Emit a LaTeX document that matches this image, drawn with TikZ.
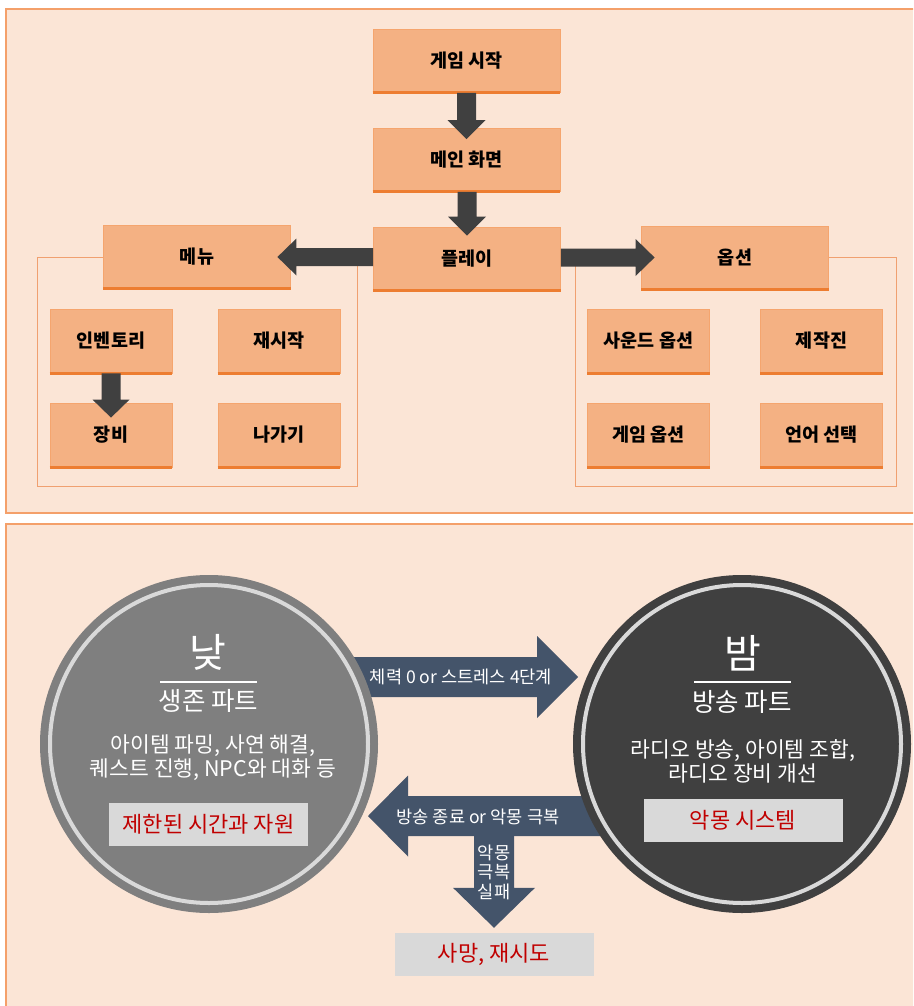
\documentclass[tikz,border=0pt]{standalone}
\usepackage{fontspec}
\setmainfont{Noto Sans CJK KR}
\usetikzlibrary{calc}
\definecolor{panelbg}{HTML}{FBE5D6}
\definecolor{panelline}{HTML}{F4A06A}
\definecolor{boxfill}{HTML}{F4B183}
\definecolor{boxline}{HTML}{F5A56E}
\definecolor{boxbottom}{HTML}{ED7D31}
\definecolor{grpline}{HTML}{F0A070}
\definecolor{arrdark}{HTML}{404040}
\definecolor{arrslate}{HTML}{44546A}
\definecolor{daygray}{HTML}{7F7F7F}
\definecolor{nightgray}{HTML}{404040}
\definecolor{ringgray}{HTML}{D9D9D9}
\definecolor{tagbg}{HTML}{D9D9D9}
\definecolor{tagred}{HTML}{C00000}

% block arrows: #1 style, #2 start, #3 tip, #4 half shaft, #5 half head, #6 head length
\newcommand\blkdown[6]{\fill[#1] let \p1=(#2), \p2=(#3) in
  (\x2-#4,\y1) -- (\x2-#4,\y2+#6) -- (\x2-#5,\y2+#6) -- (\x2,\y2) --
  (\x2+#5,\y2+#6) -- (\x2+#4,\y2+#6) -- (\x2+#4,\y1) -- cycle;}
\newcommand\blkright[6]{\fill[#1] let \p1=(#2), \p2=(#3) in
  (\x1,\y2+#4) -- (\x2-#6,\y2+#4) -- (\x2-#6,\y2+#5) -- (\x2,\y2) --
  (\x2-#6,\y2-#5) -- (\x2-#6,\y2-#4) -- (\x1,\y2-#4) -- cycle;}
\newcommand\blkleft[6]{\fill[#1] let \p1=(#2), \p2=(#3) in
  (\x1,\y2+#4) -- (\x2+#6,\y2+#4) -- (\x2+#6,\y2+#5) -- (\x2,\y2) --
  (\x2+#6,\y2-#5) -- (\x2+#6,\y2-#4) -- (\x1,\y2-#4) -- cycle;}

\begin{document}
\begin{tikzpicture}[x=1pt,y=-1pt,
  panel/.style={fill=panelbg, draw=panelline, line width=2pt},
  grp/.style={draw=grpline, line width=1pt},
  box/.style={fill=boxfill, draw=boxline, line width=0.8pt, inner sep=0pt, text=black,
    font=\fontsize{18.5}{20}\selectfont\bfseries},
  bigbox/.style={box, minimum width=187pt, minimum height=63pt},
  subbox/.style={box, minimum width=122pt, minimum height=64pt},
  botline/.style={draw=boxbottom, line width=3pt},
  toparrow/.style={fill=arrdark},
  botarrow/.style={fill=arrslate},
  ring/.style={draw=ringgray, line width=4pt},
  title/.style={text=white, inner sep=0pt, font=\fontsize{40}{42}\selectfont},
  sub/.style={text=white, inner sep=0pt, font=\fontsize{25.5}{27}\selectfont},
  body/.style={text=white, inner sep=0pt, align=center, font=\fontsize{21.5}{24}\selectfont},
  tag/.style={fill=tagbg, text=tagred, inner sep=0pt, minimum width=199pt, minimum height=43pt,
    font=\fontsize{22}{24}\selectfont},
  arrtext/.style={text=white, inner sep=0pt, align=center, font=\fontsize{17.6}{19.5}\selectfont},
]
\useasboundingbox (0,0) rectangle (913,1006);
\clip (0,0) rectangle (913,1006);
\fill[white] (0,0) rectangle (913,1006);

% panels
\draw[panel] (6,9.5) rectangle (930,513);
\draw[panel] (6,524) rectangle (930,1030);

% ---------- top panel ----------
\draw[grp] (37,257) rectangle (357,486);
\draw[grp] (575,257) rectangle (896,486);

\node[bigbox] (start) at (466.5,61) {게임 시작};
\node[bigbox] (main) at (466.5,160) {메인 화면};
\node[bigbox] (play) at (467,259) {플레이};
\node[bigbox] (menu) at (197,257) {메뉴};
\node[bigbox] (opt) at (735,257.5) {옵션};

\node[subbox] (inv) at (111,341) {인벤토리};
\node[subbox] (restart) at (279,341) {재시작};
\node[subbox] (equip) at (111,435) {장비};
\node[subbox] (quit) at (279,435) {나가기};
\node[subbox] (sound) at (648.5,341) {사운드 옵션};
\node[subbox] (credit) at (821.5,341) {제작진};
\node[subbox] (gameopt) at (648.5,435) {게임 옵션};
\node[subbox] (lang) at (821.5,435) {언어 선택};

\foreach \n in {start,main,play,menu,opt,inv,restart,equip,quit,sound,credit,gameopt,lang}
  \draw[botline] (\n.south west) -- (\n.south east);

\blkdown{toparrow}{start.south}{[yshift=-11pt]main.north}{9.5pt}{19pt}{19pt}
\blkdown{toparrow}{main.south}{[yshift=-8.5pt]play.north}{9.5pt}{19pt}{19pt}
\blkleft{toparrow}{play.west}{[xshift=-13.5pt]menu.east}{9pt}{18.5pt}{19pt}
\blkright{toparrow}{play.east}{[xshift=13.5pt]opt.west}{9pt}{18.5pt}{19pt}
\blkdown{toparrow}{inv.south}{[yshift=-15pt]equip.north}{9.5pt}{18.5pt}{18pt}

% ---------- bottom panel ----------
\coordinate (daymid) at (209,677);
\coordinate (toNight) at (578,677);
\coordinate (nightmid) at (742,816);
\coordinate (toDay) at (368,816);
\coordinate (split) at (494,816);

\node[tag] (death) at (494,954.5) {사망, 재시도};

\blkright{botarrow}{daymid}{toNight}{20pt}{41pt}{41pt}
\blkleft{botarrow}{nightmid}{toDay}{20pt}{40.5pt}{40pt}
\blkdown{botarrow}{split}{[yshift=5pt]death.north}{20pt}{41pt}{40pt}

\node[circle, fill=daygray, minimum size=338pt, inner sep=0pt] (day) at (209,744) {};
\draw[ring] (day.center) circle[radius=159];
\node[circle, fill=nightgray, minimum size=338pt, inner sep=0pt] (night) at (742,744) {};
\draw[ring] (night.center) circle[radius=159];

\node[title] (dayT) at (208,652) {낮};
\draw[white, line width=1.5pt] (160,682) -- (257,682);
\node[sub] (daySub) at (208.5,701) {생존 파트};
\node[body] (dayBody) at (213,758) {아이템 파밍, 사연 해결,\\퀘스트 진행, NPC와 대화 등};
\node[tag] (dayTag) at (208.5,824.5) {제한된 시간과 자원};

\node[title] (nightT) at (743,653.5) {밤};
\draw[white, line width=1.5pt] (694,682) -- (791,682);
\node[sub] (nightSub) at (742,702) {방송 파트};
\node[body] (nightBody) at (743,761) {라디오 방송, 아이템 조합,\\라디오 장비 개선};
\node[tag] (nightTag) at (743,820.5) {악몽 시스템};

\node[arrtext] (lblNight) at (461,677) {체력 0 or 스트레스 4단계};
\node[arrtext] (lblDay) at (478,817) {방송 종료 or 악몽 극복};
\node[arrtext] (lblDeath) at (494,872) {악몽\\극복\\실패};
\end{tikzpicture}
\end{document}
